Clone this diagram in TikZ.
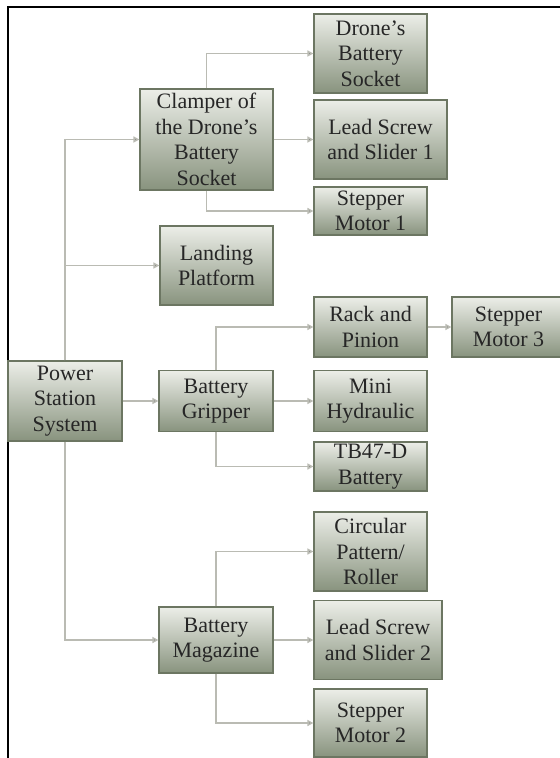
\documentclass[tikz,border=0pt]{standalone}
\usepackage{fontspec}
\setmainfont{Liberation Serif}
\usetikzlibrary{arrows.meta}
\definecolor{boxtop}{RGB}{236,238,232}
\definecolor{boxbottom}{RGB}{136,147,126}
\definecolor{boxedge}{RGB}{108,118,98}
\definecolor{linkgray}{RGB}{186,187,179}

\begin{document}
\begin{tikzpicture}[x=0.5pt, y=-0.5pt,
        block/.style={draw=boxedge, line width=0.6pt, top color=boxtop,
            bottom color=boxbottom, align=center, inner xsep=1pt, inner ysep=0pt,
            text=black!85, font=\fontsize{11}{12.8}\selectfont},
        link/.style={draw=linkgray, line width=0.8pt,
            -{Triangle[length=3pt, width=3pt, fill=gray!80!black]}}]
    \useasboundingbox (0,0) rectangle (560,758);
    % Frame
    \coordinate (frametop) at (560,7);
    \coordinate (framecorner) at (8,7);
    \coordinate (framebottom) at (8,760);
    \draw[line width=0.75pt] (framebottom) -- (framecorner) -- (frametop);

    % First level
    \node[block, minimum width=57pt, minimum height=40pt] (power) at (65,401)
        {Power\\Station\\System};
    \node[block, minimum width=66.5pt, minimum height=50.5pt] (clamp) at (206.5,139.5)
        {Clamper of\\the Drone's\\Battery\\Socket};
    \node[block, minimum width=56.5pt, minimum height=39.5pt] (land) at (216.5,265.5)
        {Landing\\Platform};
    \node[block, minimum width=57pt, minimum height=30.5pt] (grip) at (216,401)
        {Battery\\Gripper};
    \node[block, minimum width=57pt, minimum height=33pt] (mag) at (216,640)
        {Battery\\Magazine};

    % Second level
    \node[block, minimum width=56.5pt, minimum height=39.5pt] (socket) at (370.5,53.5)
        {Drone's\\Battery\\Socket};
    \node[block, minimum width=66.5pt, minimum height=39.5pt] (lead1) at (380.5,139.5)
        {Lead Screw\\and Slider 1};
    \node[block, minimum width=56.5pt, minimum height=24pt] (step1) at (370.5,211)
        {Stepper\\Motor 1};
    \node[block, minimum width=56.5pt, minimum height=30pt] (rack) at (370.5,327)
        {Rack and\\Pinion};
    \node[block, minimum width=56.5pt, minimum height=30pt] (step3) at (508.5,327)
        {Stepper\\Motor 3};
    \node[block, minimum width=56.5pt, minimum height=30.5pt] (hydr) at (370.5,401)
        {Mini\\Hydraulic};
    \node[block, minimum width=56.5pt, minimum height=24.5pt] (tb47) at (370.5,466.5)
        {TB47-D\\Battery};
    \node[block, minimum width=56.5pt, minimum height=39.5pt] (roller) at (370.5,551.5)
        {Circular\\Pattern/\\Roller};
    \node[block, minimum width=64pt, minimum height=39.5pt] (lead2) at (378,640)
        {Lead Screw\\and Slider 2};
    \node[block, minimum width=56.5pt, minimum height=34pt] (step2) at (370.5,723)
        {Stepper\\Motor 2};

    % Connectors
    \draw[link] (power.north) |- (clamp.west);
    \draw[link] (power.north) |- (land.west);
    \draw[link] (power.east) -- (grip.west);
    \draw[link] (power.south) |- (mag.west);
    \draw[link] (clamp.north) |- (socket.west);
    \draw[link] (clamp.east) -- (lead1.west);
    \draw[link] (clamp.south) |- (step1.west);
    \draw[link] (grip.north) |- (rack.west);
    \draw[link] (grip.east) -- (hydr.west);
    \draw[link] (grip.south) |- (tb47.west);
    \draw[link] (rack.east) -- (step3.west);
    \draw[link] (mag.north) |- (roller.west);
    \draw[link] (mag.east) -- (lead2.west);
    \draw[link] (mag.south) |- (step2.west);
\end{tikzpicture}
\end{document}
